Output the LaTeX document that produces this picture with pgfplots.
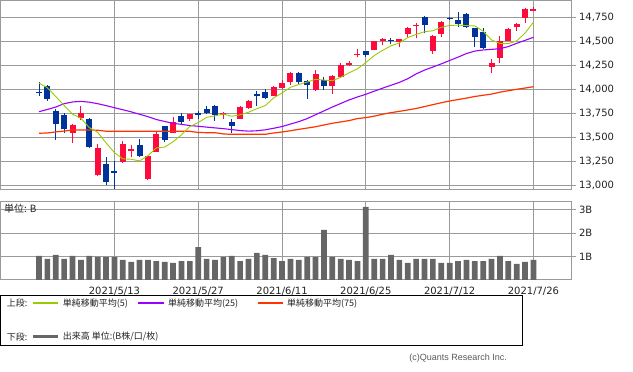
\documentclass[border=0pt]{standalone}
\usepackage{pgfplots}
\pgfplotsset{compat=1.18}
\usepackage{pgfplotstable}
\usepackage{fontspec}
\setmainfont{DejaVu Sans}
\newfontfamily\jp{Noto Sans CJK JP}
\newfontfamily\lib{Liberation Sans}
\definecolor{cred}{HTML}{FF0A3C}
\definecolor{cblue}{HTML}{003399}
\definecolor{cgreen}{HTML}{99CC00}
\definecolor{cpurple}{HTML}{9900FF}
\definecolor{corange}{HTML}{FF3300}
\definecolor{vgray}{HTML}{666666}
\definecolor{gridc}{HTML}{9A9A9A}
\definecolor{txt}{HTML}{222222}

% up (red) candles: index open high low close
\pgfplotstableread{
i o h l c
4 13548 13640 13437 13633
5 13705 13826 13680 13752
7 13104 13430 13095 13389
10 13246 13461 13236 13430
11 13357 13420 13292 13379
13 13069 13305 13060 13300
14 13350 13558 13345 13536
16 13548 13715 13545 13661
18 13690 13745 13673 13738
22 13736 13766 13690 13756
24 13694 13826 13690 13814
25 13800 13888 13790 13882
28 13930 14038 13925 14020
29 14018 14094 14000 14069
30 14076 14180 14048 14174
33 13990 14201 13985 14161
35 14034 14150 13951 14141
36 14131 14277 14125 14253
37 14258 14298 14243 14272
38 14356 14417 14333 14370
40 14409 14502 14405 14500
41 14500 14535 14461 14528
43 14490 14522 14437 14522
44 14576 14645 14542 14639
45 14660 14688 14531 14670
47 14399 14570 14368 14560
48 14576 14711 14548 14702
54 14236 14312 14173 14275
55 14330 14555 14270 14499
56 14503 14640 14500 14632
57 14652 14694 14610 14685
58 14746 14850 14694 14837
59 14819 14860 14815 14841
}\up

% down (blue) candles
\pgfplotstableread{
i o h l c
0 13972 14080 13930 13963
1 14030 14046 13880 13895
2 13777 13792 13475 13634
3 13730 13756 13548 13582
6 13690 13700 13390 13402
8 13220 13292 13003 13032
9 13150 13253 12960 13125
12 13420 13482 13295 13304
15 13618 13620 13455 13471
17 13722 13750 13635 13657
19 13742 13774 13688 13736
20 13792 13826 13740 13749
21 13830 13835 13673 13736
23 13663 13694 13548 13614
26 13950 13982 13826 13925
27 13975 14003 13900 13912
31 14170 14180 14060 14073
32 14083 14097 13902 14040
34 14097 14125 13992 14030
39 14399 14400 14333 14360
42 14515 14538 14475 14504
46 14750 14764 14583 14665
49 14746 14750 14720 14733
50 14722 14802 14652 14678
51 14785 14790 14640 14645
52 14638 14640 14444 14543
53 14597 14635 14420 14427
}\down

% moving averages: index ma5 ma25 ma75
\pgfplotstableread{
i m5 m25 m75
0 14065 13767 13542
1 14016 13790 13545
2 13925 13815 13556
3 13831 13850 13565
4 13741 13868 13576
5 13699 13874 13576
6 13601 13866 13576
7 13552 13850 13574
8 13442 13830 13563
9 13340 13808 13562
10 13276 13787 13562
11 13271 13765 13562
12 13254 13740 13562
13 13308 13715 13562
14 13390 13685 13562
15 13398 13665 13562
16 13454 13645 13562
17 13525 13635 13562
18 13613 13622 13562
19 13653 13615 13550
20 13708 13606 13548
21 13723 13598 13548
22 13743 13590 13535
23 13719 13580 13531
24 13734 13570 13531
25 13761 13564 13531
26 13798 13568 13531
27 13830 13578 13531
28 13911 13594 13545
29 13962 13612 13555
30 14020 13638 13568
31 14050 13663 13583
32 14075 13695 13596
33 14104 13735 13610
34 14096 13775 13628
35 14089 13815 13646
36 14125 13852 13660
37 14172 13889 13674
38 14213 13920 13695
39 14279 13948 13705
40 14351 13980 13720
41 14406 14012 13740
42 14453 14042 13757
43 14483 14072 13770
44 14539 14110 13785
45 14572 14160 13800
46 14599 14200 13820
47 14610 14232 13840
48 14646 14265 13860
49 14665 14300 13878
50 14668 14335 13893
51 14664 14372 13908
52 14660 14398 13925
53 14605 14410 13938
54 14514 14416 13950
55 14478 14423 13970
56 14475 14445 13985
57 14504 14479 14000
58 14586 14510 14013
59 14699 14542 14027
}\ma

% volume (billions)
\pgfplotstableread{
i v
0 1.03
1 0.90
2 1.07
3 0.90
4 1.03
5 0.86
6 1.03
7 0.99
8 0.99
9 0.99
10 0.86
11 0.77
12 0.86
13 0.86
14 0.81
15 0.77
16 0.73
17 0.81
18 0.81
19 1.41
20 0.90
21 0.86
22 0.99
23 1.03
24 0.81
25 0.90
26 1.16
27 1.07
28 0.94
29 0.81
30 0.90
31 0.86
32 0.99
33 0.99
34 2.14
35 0.99
36 0.90
37 0.86
38 0.81
39 3.13
40 0.90
41 0.90
42 1.07
43 0.86
44 0.73
45 0.90
46 0.90
47 0.90
48 0.73
49 0.73
50 0.81
51 0.86
52 0.81
53 0.81
54 0.90
55 1.03
56 0.81
57 0.69
58 0.77
59 0.86
}\vol

\pgfplotsset{
  basepanel/.style={
    scale only axis, width=571pt,
    xmin=-4.594, xmax=63.54,
    axis line style={gridc, line width=1pt},
    grid=major, major grid style={gridc, line width=1pt},
    xtick={9,19,29,39,49,59},
    xtick style={draw=none},
    ytick pos=right, yticklabel pos=right,
    ytick style={gridc, line width=1pt},
    major tick length=4pt, tick align=outside,
    ticklabel style={font=\fontsize{10}{12}\selectfont, text=txt},
    /pgf/number format/1000 sep={,},
    /pgf/number format/assume math mode=true,
    scaled y ticks=false,
    clip=true,
  },
  candle/.style 2 args={draw=none, mark=none, no markers,
    error bars/.cd, y dir=plus, y explicit, error mark=none,
    error bar style={draw=#1, line width=#2, solid}, /pgfplots/.cd},
}

\begin{document}
\begin{tikzpicture}
\useasboundingbox (0pt,0pt) rectangle (633pt,372pt);

% ===== legend (drawn first) =====
\draw[black, line width=1pt] (0.5pt,76pt) rectangle (522pt,26pt);
\draw[cgreen, line width=1.6pt] (33pt,68.7pt) -- (58pt,68.7pt);
\draw[cpurple, line width=1.6pt] (138pt,68.7pt) -- (164pt,68.7pt);
\draw[corange, line width=1.6pt] (258pt,68.7pt) -- (283pt,68.7pt);
\draw[vgray, line width=3pt] (33pt,35.3pt) -- (58pt,35.3pt);

% ===== top panel: candles =====
\begin{axis}[basepanel,
  at={(0.5pt,182pt)}, anchor=south west, height=189.5pt,
  ymin=12951, ymax=14925,
  ytick={13000,13250,13500,13750,14000,14250,14500,14750},
  xticklabels={},
]
% wicks
\addplot[candle={cred}{1pt}]
  table[x=i, y=l, y error expr=\thisrow{h}-\thisrow{l}] {\up};
\addplot[candle={cblue}{1pt}]
  table[x=i, y=l, y error expr=\thisrow{h}-\thisrow{l}] {\down};
% bodies
\addplot[candle={cred}{6pt}]
  table[x=i, y expr={min(\thisrow{o},\thisrow{c})}, y error expr={max(abs(\thisrow{c}-\thisrow{o}),14)}] {\up};
\addplot[candle={cblue}{6pt}]
  table[x=i, y expr={min(\thisrow{o},\thisrow{c})}, y error expr={max(abs(\thisrow{c}-\thisrow{o}),14)}] {\down};
% moving averages
\addplot[corange, line width=1.2pt, mark=none] table[x=i, y=m75] {\ma};
\addplot[cpurple, line width=1.1pt, mark=none] table[x=i, y=m25] {\ma};
\addplot[cgreen, line width=0.9pt, mark=none] table[x=i, y=m5] {\ma};
\end{axis}

% ===== volume panel =====
\begin{axis}[basepanel,
  at={(0.5pt,92pt)}, anchor=south west, height=78.3pt,
  ymin=0, ymax=3.35,
  ytick={1,2,3}, yticklabels={1B,2B,3B},
  xticklabels={2021/5/13,2021/5/27,2021/6/11,2021/6/25,2021/7/12,2021/7/26},
]
\addplot[ybar, bar width=5.7pt, bar shift=0pt, fill=vgray, draw=none] table[x=i, y=v] {\vol};
\end{axis}

\node[anchor=west, inner sep=0pt, font=\jp\fontsize{10}{12}\selectfont, text=txt] at (4pt,163pt) {単位: B};

\begin{scope}[every node/.style={anchor=west, inner sep=0pt, font=\jp\fontsize{9}{11}\selectfont, text=txt}]
\node at (6.7pt,68.7pt) {上段:};
\node at (62.7pt,68.7pt) {単純移動平均(5)};
\node at (168pt,68.7pt) {単純移動平均(25)};
\node at (287pt,68.7pt) {単純移動平均(75)};
\node at (6.7pt,35.3pt) {下段:};
\node at (62.7pt,35.3pt) {出来高 単位:(B株/口/枚)};
\end{scope}

\node[anchor=east, inner sep=0pt, font=\lib\fontsize{9}{11}\selectfont, text=black!65] at (507pt,14.3pt) {(c)Quants Research Inc.};
\end{tikzpicture}
\end{document}
